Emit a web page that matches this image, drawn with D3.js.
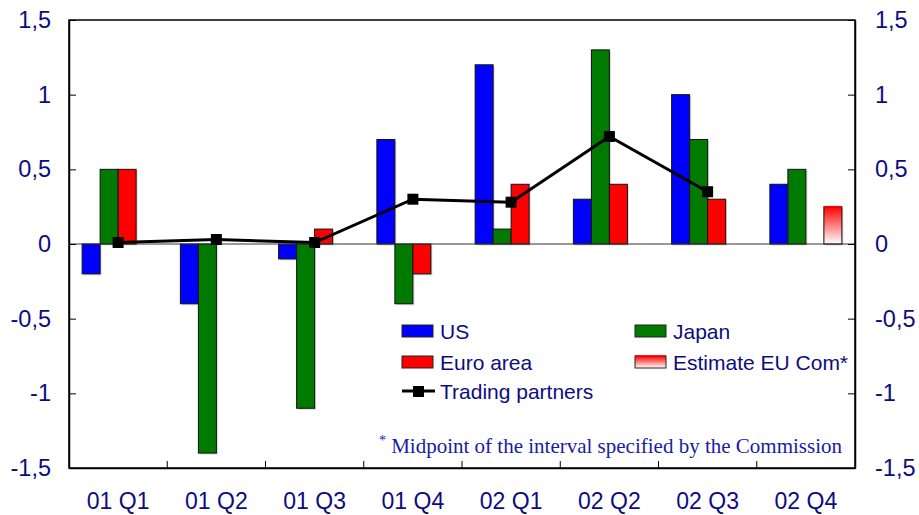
<!DOCTYPE html>
<html><head><meta charset="utf-8">
<script src="https://cdn.jsdelivr.net/npm/d3@7"></script>
<style>body{margin:0;background:#fff}svg{display:block}</style>
</head><body>
<svg id="c" width="919" height="515"></svg>
<script>
const categories = ["01 Q1","01 Q2","01 Q3","01 Q4","02 Q1","02 Q2","02 Q3","02 Q4"];
const usValues = [-0.2,-0.4,-0.1,0.7,1.2,0.3,1.0,0.4];
const japanValues = [0.5,-1.4,-1.1,-0.4,0.1,1.3,0.7,0.5];
const euroValues = [0.5,0,0.1,-0.2,0.4,0.4,0.3,null];
const estimateValues = [null,null,null,null,null,null,null,0.25];
const tradingValues = [0.01,0.03,0.01,0.30,0.28,0.72,0.35,null];
const yTicks = [-1.5,-1,-0.5,0,0.5,1,1.5];
const seriesNames = ["US","Japan","Euro area","Estimate EU Com*"];
const legendLabels = ["US","Japan","Euro area","Estimate EU Com*","Trading partners"];
const footnote = "Midpoint of the interval specified by the Commission";

const svg = d3.select("#c");
const L=69,R=855,T=20,B=468;
const txtCol="#0c0c80";
const x = d3.scaleBand().domain(categories).range([L,R]);
const inner = d3.scaleBand().domain(seriesNames).range([0,72]);
const off = (x.bandwidth()-72)/2;
const y = d3.scaleLinear().domain([-1.5,1.5]).range([B,T]);

const defs = svg.append("defs");
const g = defs.append("linearGradient").attr("id","est").attr("x1",0).attr("x2",0).attr("y1",0).attr("y2",1);
g.append("stop").attr("offset","0%").attr("stop-color","#ff0000");
g.append("stop").attr("offset","100%").attr("stop-color","#ffffff");

const colors = {"US":"#0000ff","Japan":"#007a00","Euro area":"#ff0000","Estimate EU Com*":"url(#est)"};
const data = [usValues,japanValues,euroValues,estimateValues];

// frame
svg.append("rect").attr("x",L).attr("y",T).attr("width",R-L).attr("height",B-T)
  .attr("fill","none").attr("stroke","#000").attr("stroke-width",1.5);

// bars
seriesNames.forEach((s,i)=>{
  const vals = data[i];
  const grp = svg.append("g");
  categories.forEach((c,j)=>{
    const v = vals[j];
    if(v==null||v===0) return;
    const bx = x(c)+off+inner(s);
    const y0=y(Math.max(0,v)), h=Math.abs(y(v)-y(0));
    grp.append("rect").attr("x",bx+1.5).attr("y",y0+1.5).attr("width",inner.bandwidth()).attr("height",h)
      .attr("fill","#bbb").attr("opacity",0.6);
    grp.append("rect").attr("x",bx).attr("y",y0).attr("width",inner.bandwidth()).attr("height",h)
      .attr("fill",colors[s]).attr("stroke","#111").attr("stroke-width",1);
    if(s==="Estimate EU Com*"){
      grp.append("line").attr("x1",bx).attr("x2",bx+inner.bandwidth()).attr("y1",y0).attr("y2",y0)
        .attr("stroke","#ff0000").attr("stroke-width",1.5);
    }
  });
});

// zero line
svg.append("line").attr("x1",L).attr("x2",R).attr("y1",y(0)).attr("y2",y(0)).attr("stroke","#333").attr("stroke-width",1);

// axes
const fmt = d=> String(d).replace(".",",");
const ly = svg.append("g").attr("transform",`translate(${L},0)`).call(d3.axisLeft(y).tickValues(yTicks).tickFormat(fmt).tickSizeInner(-7).tickSizeOuter(0).tickPadding(18));
const ry = svg.append("g").attr("transform",`translate(${R},0)`).call(d3.axisRight(y).tickValues(yTicks).tickFormat(fmt).tickSizeInner(-7).tickSizeOuter(0).tickPadding(20));
[ly,ry].forEach(a=>{
  a.select(".domain").attr("stroke","#000").attr("stroke-width",1.5);
  a.selectAll("text").attr("fill",txtCol).style("font-family","Liberation Sans, Arial, sans-serif").style("font-size","23.5px");
});
// bottom axis: category labels + boundary ticks
const bx = svg.append("g").attr("transform",`translate(0,${B})`).call(d3.axisBottom(x).tickSize(0).tickPadding(25));
bx.select(".domain").attr("stroke","#000").attr("stroke-width",1.5);
bx.selectAll("text").attr("fill",txtCol).style("font-family","Liberation Sans, Arial, sans-serif").style("font-size","23px");
categories.slice(1).forEach(c=>{
  svg.append("line").attr("x1",x(c)).attr("x2",x(c)).attr("y1",B).attr("y2",B-7).attr("stroke","#000").attr("stroke-width",1);
});

// trading partners line
const pts = categories.map((c,i)=>({c,v:tradingValues[i]})).filter(d=>d.v!=null);
svg.append("path").datum(pts).attr("fill","none").attr("stroke","#000").attr("stroke-width",3)
  .attr("d",d3.line().x(d=>x(d.c)+x.bandwidth()/2).y(d=>y(d.v)));
svg.selectAll(".mk").data(pts).enter().append("rect")
  .attr("x",d=>x(d.c)+x.bandwidth()/2-5.5).attr("y",d=>y(d.v)-5.5).attr("width",11).attr("height",11).attr("fill","#000");

// legend
const lg = svg.append("g").style("font-family","Liberation Sans, Arial, sans-serif").style("font-size","21px");
const legPos = [[402,331],[635,331],[402,362],[635,362]];
seriesNames.forEach((s,i)=>{
  const [lx,lyy]=legPos[i];
  lg.append("rect").attr("x",lx).attr("y",lyy-6).attr("width",31).attr("height",12).attr("fill",colors[s]).attr("stroke","#222").attr("stroke-width",1);
  if(i===3) lg.append("line").attr("x1",lx).attr("x2",lx+31).attr("y1",lyy-6).attr("y2",lyy-6).attr("stroke","#f00").attr("stroke-width",1.5);
  lg.append("text").attr("x",lx+38).attr("y",lyy+7.5).attr("fill",txtCol).text(legendLabels[i]);
});
lg.append("line").attr("x1",402).attr("x2",435).attr("y1",391).attr("y2",391).attr("stroke","#000").attr("stroke-width",3);
lg.append("rect").attr("x",413).attr("y",386).attr("width",11).attr("height",11).attr("fill","#000");
lg.append("text").attr("x",440).attr("y",398.5).attr("fill",txtCol).text(legendLabels[4]);

// footnote
const fn = svg.append("text").attr("x",842).attr("y",453).attr("text-anchor","end")
  .style("font-family","Liberation Serif, Times New Roman, serif").style("font-size","21px").attr("fill","#1a1aa8");
fn.append("tspan").attr("dy",-8).style("font-size","14px").text("*");
fn.append("tspan").attr("dy",8).text(" "+footnote);
</script>
</body></html>
